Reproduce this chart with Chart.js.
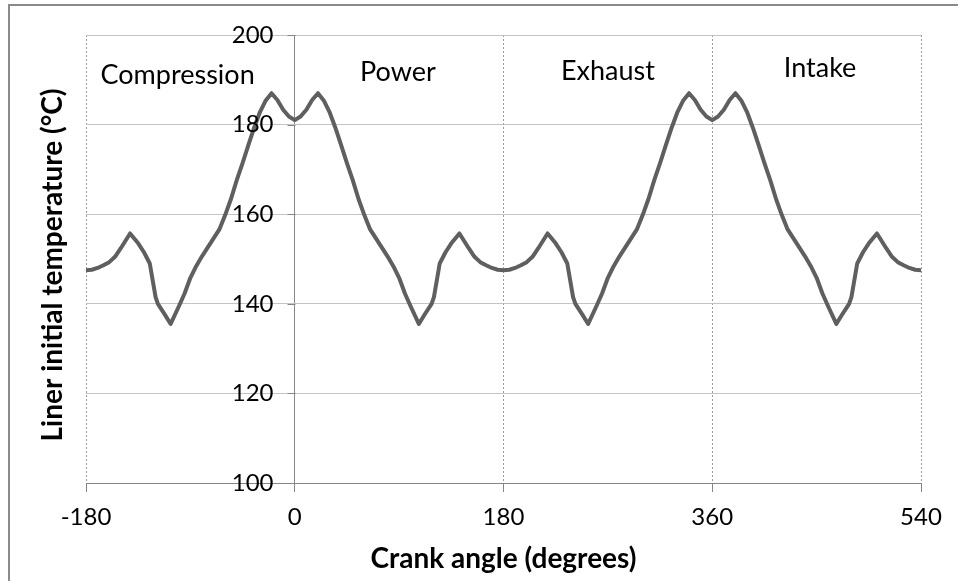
<!DOCTYPE html>
<html>
<head>
<meta charset="utf-8">
<script src="https://cdn.jsdelivr.net/npm/chart.js@4"></script>
<style>
  body { margin: 0; background: #fff; }
  #wrap { width: 958px; height: 581px; }
</style>
</head>
<body>
<div id="wrap"><canvas id="tempChart" width="958" height="581"></canvas></div>
<script>
// crank angle (degrees) and liner temperature (°C)
const crankAngles = [
  -180, -175, -170, -165, -160, -155, -150, -142, -135, -130, -125, -120, -118, -112, -107, -100,
  -95, -90, -85, -80, -75, -70, -65, -60, -55, -50, -45, -40, -35, -30, -25, -20, -15, -10, -5, 0,
  5, 10, 15, 20, 25, 30, 35, 40, 45, 50, 55, 60, 65, 70, 75, 80, 85, 90, 95, 100,
  107, 112, 118, 120, 125, 130, 135, 142, 150, 155, 160, 165, 170, 175, 180,
  185, 190, 195, 200, 205, 210, 218, 225, 230, 235, 240, 242, 248, 253, 260,
  265, 270, 275, 280, 285, 290, 295, 300, 305, 310, 315, 320, 325, 330, 335, 340, 345, 350, 355, 360,
  365, 370, 375, 380, 385, 390, 395, 400, 405, 410, 415, 420, 425, 430, 435, 440, 445, 450, 455, 460,
  467, 472, 478, 480, 485, 490, 495, 502, 510, 515, 520, 525, 530, 535, 540
];
const linerTemp = [
  147.5, 147.6, 148.0, 148.6, 149.3, 150.5, 152.4, 155.7, 153.5, 151.5, 149.0, 141.5, 140.0, 137.6, 135.5, 139.4,
  142.3, 145.8, 148.4, 150.6, 152.6, 154.6, 156.6, 159.8, 163.4, 167.6, 171.4, 175.4, 179.3, 182.8, 185.4, 187.0, 185.5, 183.3, 181.8, 181.0,
  181.8, 183.3, 185.5, 187.0, 185.4, 182.8, 179.3, 175.4, 171.4, 167.6, 163.4, 159.8, 156.6, 154.6, 152.6, 150.6, 148.4, 145.8, 142.3, 139.4,
  135.5, 137.6, 140.0, 141.5, 149.0, 151.5, 153.5, 155.7, 152.4, 150.5, 149.3, 148.6, 148.0, 147.6, 147.5,
  147.6, 148.0, 148.6, 149.3, 150.5, 152.4, 155.7, 153.5, 151.5, 149.0, 141.5, 140.0, 137.6, 135.5, 139.4,
  142.3, 145.8, 148.4, 150.6, 152.6, 154.6, 156.6, 159.8, 163.4, 167.6, 171.4, 175.4, 179.3, 182.8, 185.4, 187.0, 185.5, 183.3, 181.8, 181.0,
  181.8, 183.3, 185.5, 187.0, 185.4, 182.8, 179.3, 175.4, 171.4, 167.6, 163.4, 159.8, 156.6, 154.6, 152.6, 150.6, 148.4, 145.8, 142.3, 139.4,
  135.5, 137.6, 140.0, 141.5, 149.0, 151.5, 153.5, 155.7, 152.4, 150.5, 149.3, 148.6, 148.0, 147.6, 147.5
];
const xTicks = [-180, 0, 180, 360, 540];
const yTicks = [100, 120, 140, 160, 180, 200];
const strokeNames = ["Compression", "Power", "Exhaust", "Intake"];
const strokeLabelX = [-101, 89, 270, 453];
const strokeLabelY = [191.1, 191.7, 192.0, 192.6];
const yTitle = "Liner initial temperature (°C)";

const axisGrey = "#868686";
const fontFamily = "Lato, 'Open Sans', sans-serif";

// frame, y-axis at 0 with its labels, stroke names, y title
const overlay = {
  id: "overlay",
  beforeDraw(chart) {
    const c = chart.ctx;
    c.save();
    c.strokeStyle = "#8a8a8a";
    c.lineWidth = 2;
    c.strokeRect(9, 5, 1200, 1200);
    c.restore();
  },
  afterDatasetsDraw(chart) {
    const c = chart.ctx;
    const xs = chart.scales.x, ys = chart.scales.y;
    const x0 = Math.round(xs.getPixelForValue(0)) + 0.5;
    c.save();
    c.strokeStyle = axisGrey;
    c.lineWidth = 1;
    c.beginPath();
    yTicks.forEach(v => {
      const y = Math.round(ys.getPixelForValue(v)) + 0.5;
      c.moveTo(x0 - 8, y);
      c.lineTo(x0, y);
    });
    c.stroke();
    c.fillStyle = "#000";
    c.font = "24px " + fontFamily;
    c.textAlign = "right";
    c.textBaseline = "middle";
    yTicks.forEach(v => {
      c.fillText(String(v), x0 - 22, ys.getPixelForValue(v));
    });
    c.font = "27px " + fontFamily;
    c.textAlign = "center";
    strokeNames.forEach((name, i) => {
      c.fillText(name, xs.getPixelForValue(strokeLabelX[i]), ys.getPixelForValue(strokeLabelY[i]));
    });
    c.font = "bold 28px " + fontFamily;
    c.translate(53, (ys.top + ys.bottom) / 2 + 6);
    c.rotate(-Math.PI / 2);
    c.fillText(yTitle, 0, 0);
    c.restore();
  }
};

const ctx = document.getElementById("tempChart").getContext("2d");
new Chart(ctx, {
  type: "line",
  data: {
    datasets: [{
      data: crankAngles.map((a, i) => ({ x: a, y: linerTemp[i] })),
      borderColor: "#5f5f5f",
      borderWidth: 4,
      pointRadius: 0,
      tension: 0,
      borderJoinStyle: "round",
      borderCapStyle: "round"
    }]
  },
  options: {
    responsive: false,
    animation: false,
    layout: { padding: { top: 35, right: 37, left: 0, bottom: 0 } },
    plugins: {
      legend: { display: false },
      tooltip: { enabled: false }
    },
    scales: {
      x: {
        type: "linear",
        min: -180,
        max: 540,
        afterBuildTicks: s => { s.ticks = xTicks.map(v => ({ value: v })); },
        afterFit: s => { s.height = 98; },
        ticks: { color: "#000", font: { family: fontFamily, size: 24 }, padding: 11, maxRotation: 0 },
        grid: {
          color: ctx => ctx.tick && ctx.tick.value === 0 ? axisGrey : "#9a9a9a",
          tickColor: axisGrey,
          tickLength: 9,
          lineWidth: 1
        },
        border: {
          display: true,
          color: axisGrey,
          dash: ctx => ctx.tick && ctx.tick.value === 0 ? [] : [2, 2]
        },
        title: {
          display: true,
          text: "Crank angle (degrees)",
          color: "#000",
          font: { family: fontFamily, size: 28, weight: "bold" },
          padding: { top: 0, bottom: 5 }
        }
      },
      y: {
        min: 100,
        max: 200,
        afterBuildTicks: s => { s.ticks = yTicks.map(v => ({ value: v })); },
        afterFit: s => { s.width = 86; },
        ticks: { display: false },
        grid: { color: "#c4c4c4", lineWidth: 1, drawTicks: false },
        border: { display: false },
        title: { display: false }
      }
    }
  },
  plugins: [overlay]
});
</script>
</body>
</html>
